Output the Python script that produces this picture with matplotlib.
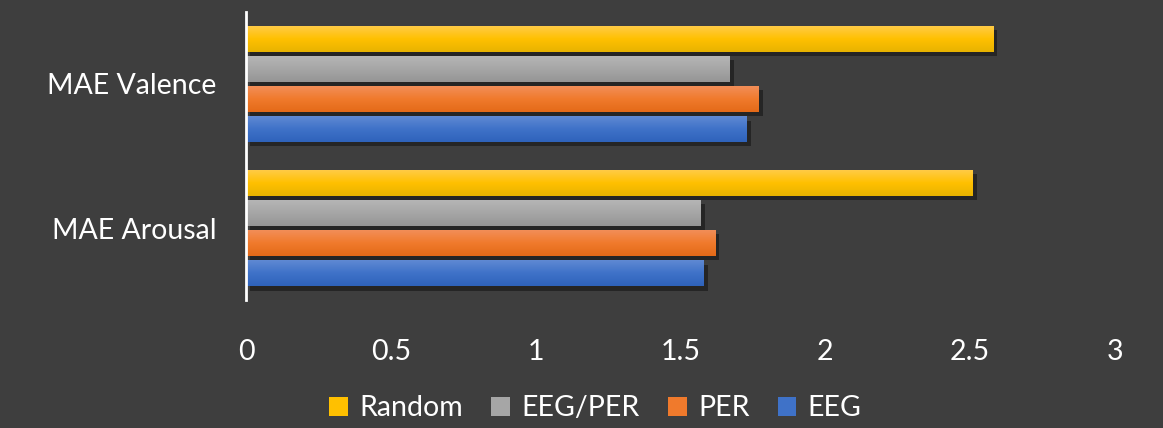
import matplotlib
matplotlib.use('Agg')
import matplotlib.pyplot as plt
import matplotlib.patheffects as pe
from matplotlib.patches import Patch
from matplotlib.colors import LinearSegmentedColormap
import numpy as np

categories = ['MAE Arousal', 'MAE Valence']
series = ['EEG', 'PER', 'EEG/PER', 'Random']
eeg = [1.58, 1.73]
per = [1.62, 1.77]
eeg_per = [1.57, 1.67]
random_ = [2.51, 2.58]
values = [eeg, per, eeg_per, random_]

# (top colour, middle, bottom) for the vertical gradient
grads = {
    'EEG': ['#5f89d3', '#3f72c8', '#2f63bb'],
    'PER': ['#f28e58', '#f07a2c', '#e46a18'],
    'EEG/PER': ['#b5b5b5', '#a6a6a6', '#959595'],
    'Random': ['#ffcb45', '#ffc000', '#e8b300'],
}

bg = '#3e3e3e'
plt.rcParams['font.family'] = ['Lato', 'DejaVu Sans']

fig = plt.figure(figsize=(11.63, 4.28), dpi=100, facecolor=bg)
ax = fig.add_axes([0.2115, 0.299, 0.747, 0.673], facecolor=bg)

y = np.arange(len(categories))
slot = 0.21
h = 0.18
offsets = (np.arange(len(series)) - 1.5) * slot

grad = np.linspace(0, 1, 64).reshape(-1, 1)
for name, vals, off in zip(series, values, offsets):
    cols = grads[name]
    bars = ax.barh(y + off, vals, height=h, color=cols[1], edgecolor='none',
                   zorder=2)
    cmap = LinearSegmentedColormap.from_list(name, cols)
    for b in bars:
        b.set_path_effects([pe.SimplePatchShadow(offset=(3, -3), alpha=0.4,
                                                 shadow_rgbFace='black'),
                            pe.Normal()])
        x0, y0 = b.get_x(), b.get_y()
        w, hh = b.get_width(), b.get_height()
        im = ax.imshow(grad, cmap=cmap, aspect='auto', zorder=3,
                       extent=(x0, x0 + w, y0, y0 + hh), origin='upper')
        im.set_clip_path(b)

ax.set_xlim(0, 3)
ax.set_ylim(-0.5, 1.5)
ax.set_xticks([0, 0.5, 1, 1.5, 2, 2.5, 3])
ax.set_xticklabels(['0', '0.5', '1', '1.5', '2', '2.5', '3'])
ax.set_yticks(y)
ax.set_yticklabels(categories)
ax.tick_params(colors='white', labelsize=20.5, length=0)
ax.tick_params(axis='x', pad=28)
ax.tick_params(axis='y', pad=21)
for s in ['top', 'right', 'bottom']:
    ax.spines[s].set_visible(False)
ax.spines['left'].set_color('white')
ax.spines['left'].set_linewidth(2)
ax.spines['left'].set_zorder(5)

handles = [Patch(facecolor=grads[n][1], edgecolor='none') for n in series[::-1]]
leg = fig.legend(handles, series[::-1], loc='center', bbox_to_anchor=(0.512, 0.046),
                 ncol=4, frameon=False, fontsize=20.5, labelcolor='white',
                 handlelength=0.65, handleheight=0.65, handletextpad=0.4,
                 columnspacing=1.0)

fig.savefig('out.png', dpi=100, facecolor=bg)
